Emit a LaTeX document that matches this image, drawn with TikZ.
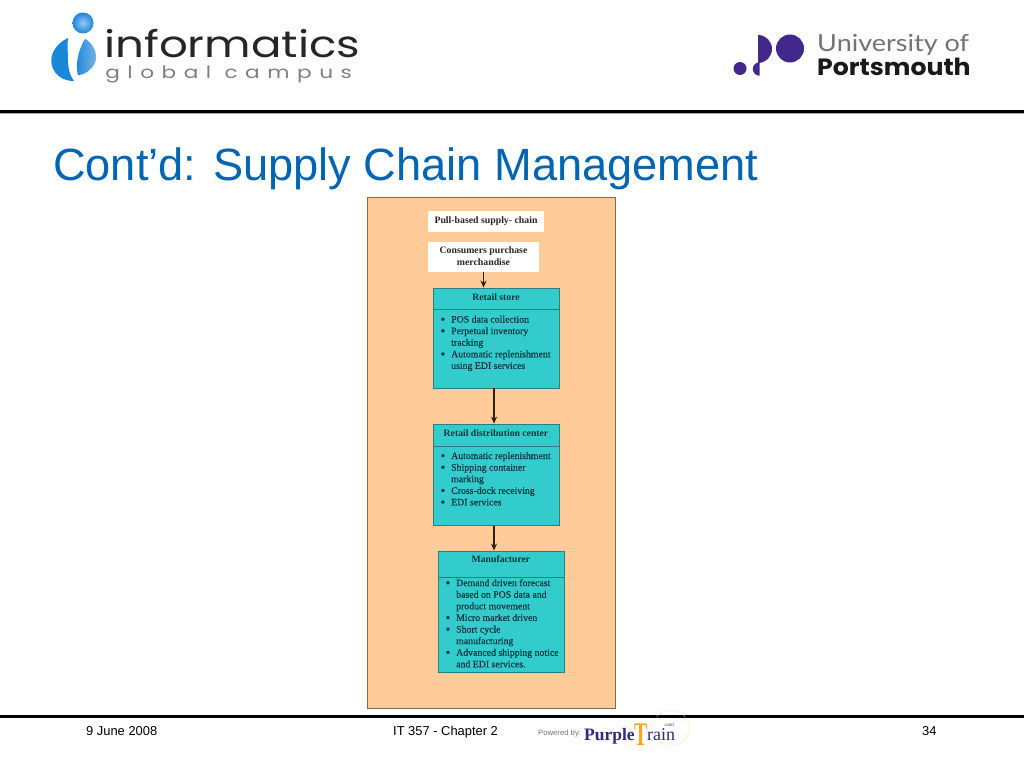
\documentclass[tikz,border=0pt]{standalone}
\usepackage{fontspec}
\setmainfont{Liberation Serif}
\newfontfamily\slidefont{Liberation Sans}
\newfontfamily\infofont{Poppins}
\newfontfamily\globalfont[LetterSpace=35]{Poppins}
\newfontfamily\unifont{Lato}
\newfontfamily\itemfont[FakeBold=0.3]{Liberation Serif}
\usetikzlibrary{arrows.meta}
\definecolor{slideblue}{HTML}{0066B3}
\definecolor{panelorange}{HTML}{FFCC99}
\definecolor{boxteal}{HTML}{33CCCC}
\definecolor{boxedge}{HTML}{2A7F80}
\definecolor{boxtext}{HTML}{0A3540}
\definecolor{paneledge}{HTML}{86694F}
\definecolor{unipurple}{HTML}{41288A}
\definecolor{trainorange}{HTML}{F5A623}
\definecolor{trainnavy}{HTML}{2E2A80}
\definecolor{logoblue}{HTML}{1C86D9}
\newcommand{\bul}{\llap{\raisebox{-1pt}{\fontsize{13}{0}\selectfont\textbullet}\hspace{6pt}}}
\begin{document}
\begin{tikzpicture}[x=1pt,y=-1pt]
	\tikzstyle{head}=[rectangle,draw=boxedge,fill=boxteal,line width=0.9pt,minimum width=126pt,inner sep=0pt,text=boxtext,font=\fontsize{9.7}{11}\selectfont\bfseries]
	\tikzstyle{body}=[rectangle,draw=boxedge,fill=boxteal,line width=0.9pt,minimum width=126pt,inner sep=0pt]
	\tikzstyle{items}=[anchor=north west,inner sep=0pt,align=left,text=boxtext,font=\itemfont\fontsize{9.8}{11.6}\selectfont]
	\tikzstyle{whitebox}=[rectangle,fill=white,inner sep=0pt,align=center,text=black!85,font=\fontsize{9.8}{11.6}\selectfont\bfseries]
	\tikzstyle{link}=[draw=black!75!brown,line width=1.1pt,-{Stealth[length=7pt,width=6pt]}]
	\tikzstyle{foot}=[anchor=base west,inner sep=0pt,font=\slidefont\fontsize{12.9}{14}\selectfont]
	\tikzstyle{rule}=[line width=3pt,draw=black]
	\useasboundingbox (0,0) rectangle (1024,768);
	\fill[white] (0,0) rectangle (1024,768);
	% informatics logo
	\shade[inner color=logoblue!45,outer color=logoblue] (83,23) circle (10.5);
	\fill[logoblue] (68,38) .. controls (55,44) and (49,56) .. (52,66) .. controls (55,76) and (64,81) .. (74,81) .. controls (70,76) and (68,68) .. (68,60) .. controls (68,52) and (67,45) .. (68,38);
	\shade[left color=logoblue,right color=logoblue!60] (85,39) .. controls (92,42) and (97,52) .. (96,59) .. controls (95,67) and (86,75) .. (78,75) .. controls (75,66) and (78,50) .. (85,39);
	\node[anchor=base west,inner sep=0pt,xscale=1.22,text=black!85,font=\infofont\fontsize{37}{40}\selectfont] (info) at (104,58) {informatics};
	\node[anchor=base west,inner sep=0pt,xscale=1.27,text=black!50,font=\globalfont\fontsize{17}{20}\selectfont] (campus) at (105,78) {global campus};
	% portsmouth logo
	\fill[unipurple] (740,68.5) circle (6.5);
	\fill[unipurple] (759.5,62.3) arc (-90:-270:6.7) -- cycle;
	\fill[unipurple] (758,35) arc (-90:90:14) -- cycle;
	\fill[unipurple] (790,48.5) circle (14);
	\node[anchor=base west,inner sep=0pt,xscale=1.15,text=black!55,font=\unifont\fontsize{23.5}{26}\selectfont] (uni) at (817,52) {University of};
	\node[anchor=base west,inner sep=0pt,xscale=1.07,text=black!90,font=\infofont\bfseries\fontsize{23.5}{26}\selectfont] (port) at (817,75) {Portsmouth};
	% rules and title
	\draw[black!35,line width=1.5pt] (0,113.5) -- (1024,113.5);
	\draw[rule] (0,111) -- (1024,111);
	\node[anchor=base west,inner sep=0pt,text=slideblue,font=\slidefont\fontsize{45.2}{50}\selectfont] (title) at (53,180) {Cont’d: Supply Chain Management};
	% panel
	\node[rectangle,draw=paneledge,fill=panelorange,line width=1pt,minimum width=248pt,minimum height=511pt,inner sep=0pt] (panel) at (491,452.5) {};
	\node[whitebox,minimum width=116pt,minimum height=21pt] (pull) at (486,221.5) {Pull-based supply- chain};
	\node[whitebox,minimum width=111pt,minimum height=30pt,text depth=1.5pt] (consumers) at (483.5,257) {Consumers purchase\\merchandise};
	\node[head,minimum height=21pt,text depth=3pt] (store) at (496,298.5) {Retail store};
	\node[body,minimum height=79pt] (storebody) at (496,348.5) {};
	\node[items] (storelist) at (451,315.5) {\bul POS data collection\\\bul Perpetual inventory\\tracking\\\bul Automatic replenishment\\using EDI services};
	\node[head,minimum height=22.5pt,text depth=4pt] (center) at (496,435.3) {Retail distribution center};
	\node[body,minimum height=78.5pt] (centerbody) at (496,485.8) {};
	\node[items] (centerlist) at (451,452) {\bul Automatic replenishment\\\bul Shipping container\\marking\\\bul Cross-dock receiving\\\bul EDI services};
	\node[head,minimum height=26pt,text depth=9pt] (maker) at (501,564) {Manufacturer};
	\node[body,minimum height=95pt] (makerbody) at (501,624.5) {};
	\node[items] (makerlist) at (456,579) {\bul Demand driven forecast\\based on POS data and\\product movement\\\bul Micro market driven\\\bul Short cycle\\manufacturing\\\bul Advanced shipping notice\\and EDI services.};
	\draw[link] (consumers.south) -- (consumers.south |- store.north);
	\draw[link] ([xshift=-2pt]storebody.south) -- ([xshift=-2pt]center.north);
	\draw[link] ([xshift=-2pt]centerbody.south) -- ([xshift=-2pt]centerbody.south |- maker.north);
	% footer
	\draw[rule] (0,716) -- (1024,716);
	\node[foot] (date) at (86,735) {9 June 2008};
	\node[foot] (chapter) at (393,735) {IT 357 - Chapter 2};
	\node[foot] (page) at (922,735) {34};
	% purple train logo
	\draw[trainorange!45,line width=0.7pt,densely dotted] (671,728) circle (18);
	\node[anchor=base west,inner sep=0pt,text=black!55,font=\slidefont\fontsize{7.7}{9}\selectfont] (powered) at (538,735) {Powered by:};
	\node[anchor=base west,inner sep=0pt,text=trainnavy,font=\fontsize{17.5}{20}\selectfont\bfseries] (purple) at (584,740) {Purple};
	\node[anchor=base west,inner sep=0pt,xscale=0.6,text=trainorange,font=\fontsize{33}{35}\selectfont\bfseries] (tee) at (634,745) {T};
	\node[anchor=base west,inner sep=0pt,text=trainnavy,font=\fontsize{18}{20}\selectfont] (rain) at (647,740) {rain};
	\node[anchor=base west,inner sep=0pt,text=trainnavy,font=\slidefont\fontsize{4.5}{6}\selectfont] (com) at (664,726) {.com};
\end{tikzpicture}
\end{document}
